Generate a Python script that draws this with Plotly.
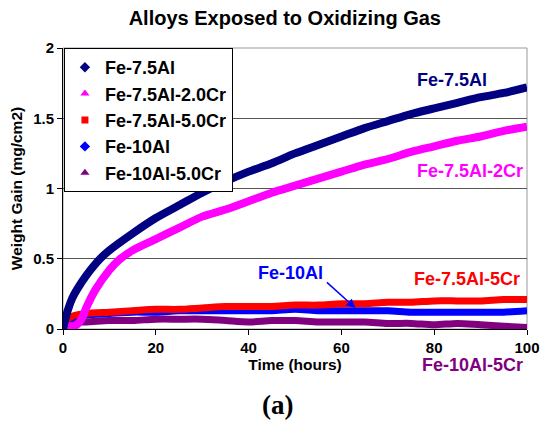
import plotly.graph_objects as go

# Time points (hours)
t_navy = [0, 1, 2, 3, 5, 8, 10, 15, 20, 25, 30, 35, 40, 45, 50, 55, 60, 65, 70, 75, 80, 85, 90, 95, 100]
fe75al = [0.0, 0.13, 0.22, 0.28, 0.38, 0.5, 0.56, 0.68, 0.79, 0.88, 0.97, 1.05, 1.12, 1.18, 1.25, 1.31, 1.37, 1.43, 1.48, 1.53, 1.57, 1.61, 1.65, 1.68, 1.72]

t_mag = [0, 2, 3, 4, 5, 7, 10, 12, 15, 20, 25, 30, 35, 40, 45, 50, 55, 60, 65, 70, 75, 80, 85, 90, 95, 100]
fe75al2cr = [0.02, 0.02, 0.03, 0.07, 0.15, 0.28, 0.42, 0.49, 0.56, 0.64, 0.72, 0.8, 0.85, 0.91, 0.97, 1.02, 1.07, 1.12, 1.17, 1.21, 1.26, 1.30, 1.34, 1.37, 1.41, 1.44]

t_low = [0, 1, 2, 3, 5, 10, 15, 20, 25, 30, 35, 40, 45, 50, 55, 60, 65, 70, 75, 80, 85, 90, 95, 100]
fe75al5cr = [0.02, 0.07, 0.09, 0.1, 0.11, 0.12, 0.13, 0.14, 0.14, 0.15, 0.16, 0.16, 0.16, 0.17, 0.17, 0.18, 0.18, 0.19, 0.19, 0.2, 0.2, 0.2, 0.21, 0.21]
fe10al = [0.02, 0.06, 0.08, 0.09, 0.1, 0.11, 0.12, 0.12, 0.13, 0.13, 0.13, 0.13, 0.13, 0.14, 0.13, 0.13, 0.13, 0.13, 0.12, 0.12, 0.12, 0.12, 0.12, 0.13]
fe10al5cr = [0.0, 0.03, 0.04, 0.05, 0.05, 0.06, 0.06, 0.07, 0.07, 0.07, 0.06, 0.05, 0.06, 0.06, 0.05, 0.05, 0.05, 0.04, 0.04, 0.03, 0.04, 0.03, 0.02, 0.01]

series = [
    ("Fe-7.5Al", t_navy, fe75al, "#000080", "diamond", 8),
    ("Fe-7.5Al-2.0Cr", t_mag, fe75al2cr, "#FF00FF", "triangle-up", 8),
    ("Fe-7.5Al-5.0Cr", t_low, fe75al5cr, "#FF0000", "square", 7),
    ("Fe-10Al", t_low, fe10al, "#0000FF", "diamond", 7),
    ("Fe-10Al-5.0Cr", t_low, fe10al5cr, "#800080", "triangle-up", 7),
]

fig = go.Figure()
for name, x, y, c, sym, w in reversed(series):
    fig.add_trace(go.Scatter(x=x, y=y, mode="lines", line=dict(color=c, width=w, shape="spline", smoothing=0.8),
                             showlegend=False, hoverinfo="skip"))
for i, (name, x, y, c, sym, w) in enumerate(series):
    fig.add_trace(go.Scatter(x=[None], y=[None], mode="markers", name=f"<b>{name}</b>",
                             marker=dict(color=c, symbol=sym, size=8 if sym != "square" else 7)))

font = "Liberation Sans, Arial, sans-serif"
fig.update_layout(
    width=552, height=421,
    margin=dict(l=63, r=13, t=48, b=92),
    paper_bgcolor="white", plot_bgcolor="white",
    font=dict(family=font, color="black", size=15),
    title=dict(text="<b>Alloys Exposed to Oxidizing Gas</b>", x=0.516, xanchor="center",
               y=0.958, yanchor="middle", font=dict(size=20, family=font)),
    legend=dict(x=0.002, y=1.0, xanchor="left", yanchor="top", bgcolor="white",
                bordercolor="black", borderwidth=1, font=dict(size=18, family=font),
                tracegroupgap=0, itemwidth=30),
    xaxis=dict(range=[0, 100], tickvals=[0, 20, 40, 60, 80, 100],
               ticktext=["<b>0</b>", "<b>20</b>", "<b>40</b>", "<b>60</b>", "<b>80</b>", "<b>100</b>"],
               ticks="outside", ticklen=5, tickcolor="black", showline=True, linecolor="black",
               linewidth=1, showgrid=False, zeroline=False, tickfont=dict(size=15),
               title=dict(text="<b>Time (hours)</b>", font=dict(size=15.5), standoff=2)),
    yaxis=dict(range=[0, 2], tickvals=[0, 0.5, 1, 1.5, 2],
               ticktext=["<b>0</b>", "<b>0.5</b>", "<b>1</b>", "<b>1.5</b>", "<b>2</b>"],
               ticks="outside", ticklen=5, tickcolor="black", showline=True, linecolor="black",
               linewidth=1, showgrid=True, gridcolor="#555555", gridwidth=1, zeroline=False,
               tickfont=dict(size=15),
               title=dict(text="<b>Weight Gain (mg/cm2)</b>", font=dict(size=15.5), standoff=6)),
    shapes=[dict(type="rect", xref="paper", yref="paper", x0=0, x1=1, y0=0, y1=1,
                 line=dict(color="#999999", width=1), layer="below")],
)

annos = [
    ("Fe-7.5Al", 462, 80, "#000080"),
    ("Fe-7.5Al-2Cr", 481, 171, "#FF00FF"),
    ("Fe-10Al", 296, 273, "#0000FF"),
    ("Fe-7.5Al-5Cr", 477, 279, "#FF0000"),
    ("Fe-10Al-5Cr", 483, 365, "#800080"),
]
for txt, px, py, c in annos:
    fig.add_annotation(text=f"<b>{txt}</b>", xref="paper", yref="paper",
                       x=(px - 63) / 476, y=(329 - py) / 281, showarrow=False,
                       font=dict(size=18, color=c, family=font), xanchor="center", yanchor="middle")

fig.add_annotation(xref="paper", yref="paper", x=(363 - 63) / 476, y=(329 - 308) / 281,
                   ax=-30, ay=-27, text="", showarrow=True, arrowhead=2, arrowsize=1.2,
                   arrowwidth=1.5, arrowcolor="#0000FF")

fig.add_annotation(text="<b>(a)</b>", xref="paper", yref="paper", x=(283 - 63) / 476,
                   y=(329 - 405) / 281, showarrow=False, xanchor="center", yanchor="middle",
                   font=dict(size=27, family="Liberation Serif, Times New Roman, serif", color="black"))

fig.write_html("out.html")
